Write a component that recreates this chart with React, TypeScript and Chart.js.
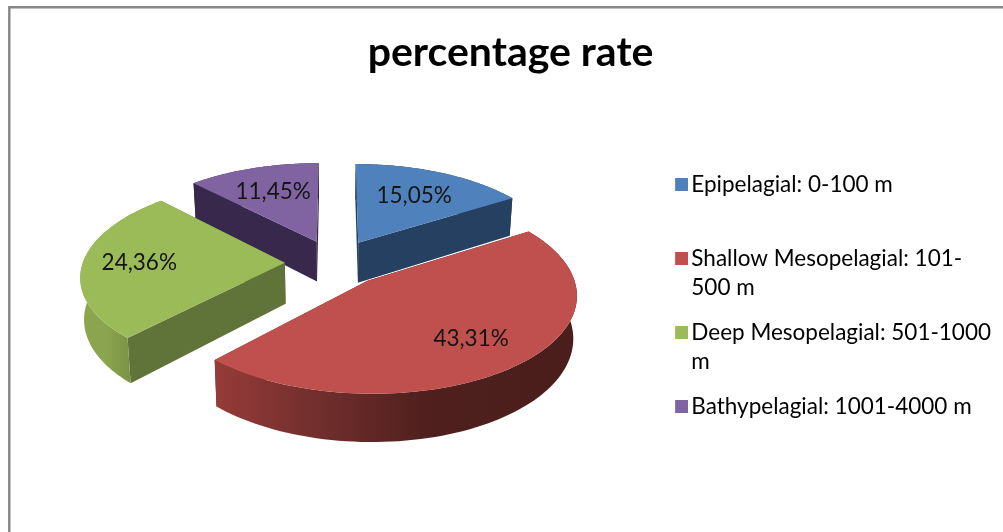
import { useEffect, useRef } from "react";
import { Chart, registerables } from "chart.js";

Chart.register(...registerables);

// Chart content
const TITLE = "percentage rate";
const CATEGORIES = [
  "Epipelagial: 0-100 m",
  "Shallow Mesopelagial: 101-500 m",
  "Deep Mesopelagial: 501-1000 m",
  "Bathypelagial: 1001-4000 m",
];
const VALUES = [15.05, 43.31, 24.36, 11.45];
const VALUE_TEXT = ["15,05%", "43,31%", "24,36%", "11,45%"];
const LEGEND_LINES = [
  ["Epipelagial: 0-100 m", ""],
  ["Shallow Mesopelagial: 101-", "500 m"],
  ["Deep Mesopelagial: 501-1000", "m"],
  ["Bathypelagial: 1001-4000 m"],
];

// Slice colours
const TOP_COLORS = ["#4f81bd", "#c0504d", "#9bbb59", "#8064a2"];
const FACE_COLORS = ["#254061", "#632523", "#60743a", "#38284c"];
const RIM_STOPS: [number, string][][] = [
  [[0, "#254061"], [1, "#254061"]],
  [[0, "#963b39"], [0.25, "#75302e"], [0.6, "#4e1f1d"], [1, "#4a1e1c"]],
  [[0, "#8ba64f"], [0.3, "#8aa54e"], [0.6, "#7a9346"], [1, "#7a9346"]],
  [[0, "#38284c"], [1, "#38284c"]],
];
const PAINT_ORDER = [3, 0, 2, 1];

// Tilted-disc view of the pie
const VIEW = {
  shiftX: -1.2,
  shiftY: -52,
  explode: 0.2475,
  perspective: 0.127,
  flatten: 93.5 / 202,
  depth: 41,
  bottomScale: 0.985,
};
const LABEL_RADII = [0.65, 0.71, 0.72, 0.66];
const LABEL_FONT = "22.5px Lato";

// Legend swatch: a 13px square pushed toward its text inside a wider transparent sprite
const SWATCH_SIZE = 13;
const SWATCH_NUDGE = 8;

type Pt = { x: number; y: number };

function makeSwatch(color: string) {
  const c = document.createElement("canvas");
  c.width = SWATCH_SIZE + 2 * SWATCH_NUDGE;
  c.height = SWATCH_SIZE;
  const g = c.getContext("2d")!;
  g.fillStyle = color;
  g.fillRect(2 * SWATCH_NUDGE, 0, SWATCH_SIZE, SWATCH_SIZE);
  return c;
}

function projector(arc: any) {
  const cx = arc.x + VIEW.shiftX;
  const cy = arc.y + VIEW.shiftY;
  const r = arc.outerRadius;
  const mid = (arc.startAngle + arc.endAngle) / 2;
  const ex = Math.cos(mid) * VIEW.explode;
  const ez = -Math.sin(mid) * VIEW.explode;
  // radial: 0 = slice apex, 1 = rim; angle in canvas radians
  return (radial: number, angle: number, lower = false): Pt => {
    const X = ex + radial * Math.cos(angle);
    const Z = ez - radial * Math.sin(angle);
    const w = 1 + VIEW.perspective * Z;
    let x = (r * X) / w;
    let y = (-r * VIEW.flatten * Z) / w;
    if (lower) {
      x *= VIEW.bottomScale;
      y = y + VIEW.depth / w;
    }
    return { x: cx + x, y: cy + y };
  };
}

function fillPath(ctx: CanvasRenderingContext2D, pts: Pt[], style: string | CanvasGradient) {
  ctx.beginPath();
  pts.forEach((p, i) => (i ? ctx.lineTo(p.x, p.y) : ctx.moveTo(p.x, p.y)));
  ctx.closePath();
  ctx.fillStyle = style;
  ctx.fill();
}

function rimPoints(project: ReturnType<typeof projector>, arc: any, lower = false) {
  const pts: Pt[] = [];
  const n = 90;
  for (let i = 0; i <= n; i++) {
    const a = arc.startAngle + ((arc.endAngle - arc.startAngle) * i) / n;
    pts.push(project(1, a, lower));
  }
  return pts;
}

const framePlugin = {
  id: "frame",
  beforeDraw(chart: any) {
    const { ctx } = chart;
    ctx.save();
    ctx.strokeStyle = "#868686";
    ctx.lineWidth = 2.4;
    ctx.beginPath();
    ctx.moveTo(9.3, chart.height + 4);
    ctx.lineTo(9.3, 7.2);
    ctx.lineTo(chart.width + 4, 7.2);
    ctx.stroke();
    ctx.restore();
  },
};

const tiltedPiePlugin = {
  id: "tiltedPie",
  beforeDatasetDraw(chart: any) {
    const { ctx } = chart;
    const arcs = chart.getDatasetMeta(0).data;
    ctx.save();
    for (const i of PAINT_ORDER) {
      const arc = arcs[i];
      const project = projector(arc);
      const upper = rimPoints(project, arc);
      const lower = rimPoints(project, arc, true);

      // the two cut faces
      for (const a of [arc.startAngle, arc.endAngle]) {
        fillPath(
          ctx,
          [project(0, a), project(1, a), project(1, a, true), project(0, a, true)],
          FACE_COLORS[i],
        );
      }

      // outer wall
      const xs = upper.concat(lower).map((p) => p.x);
      const grad = ctx.createLinearGradient(Math.min(...xs), 0, Math.max(...xs), 0);
      RIM_STOPS[i].forEach(([o, c]) => grad.addColorStop(o, c));
      fillPath(ctx, upper.concat(lower.slice().reverse()), grad);

      // top surface
      fillPath(ctx, [project(0, arc.startAngle), ...upper], TOP_COLORS[i]);
    }
    ctx.restore();
    return false;
  },
  afterDatasetsDraw(chart: any) {
    const { ctx } = chart;
    const arcs = chart.getDatasetMeta(0).data;
    ctx.save();
    ctx.font = LABEL_FONT;
    ctx.fillStyle = "#151515";
    ctx.textAlign = "center";
    ctx.textBaseline = "middle";
    arcs.forEach((arc: any, i: number) => {
      const mid = (arc.startAngle + arc.endAngle) / 2;
      const p = projector(arc)(LABEL_RADII[i], mid);
      ctx.fillText(VALUE_TEXT[i], p.x, p.y);
    });
    ctx.restore();
  },
};

export default function App() {
  const ref = useRef<HTMLCanvasElement>(null);

  useEffect(() => {
    document.body.style.margin = "0";
    const swatches = TOP_COLORS.map(makeSwatch);
    const chart = new Chart(ref.current!, {
      type: "pie",
      data: {
        labels: CATEGORIES,
        datasets: [{ data: VALUES, backgroundColor: TOP_COLORS, borderWidth: 0 }],
      },
      plugins: [framePlugin, tiltedPiePlugin],
      options: {
        responsive: false,
        animation: false,
        events: [],
        radius: 202,
        layout: { padding: { left: 20, right: 2, top: 28, bottom: -38 } },
        plugins: {
          title: {
            display: true,
            text: TITLE,
            color: "#000000",
            font: { family: "Lato", size: 41, weight: "bold" },
            padding: { top: 0, bottom: 20 },
          },
          tooltip: { enabled: false },
          legend: {
            position: "right",
            labels: {
              color: "#262626",
              usePointStyle: true,
              pointStyleWidth: SWATCH_SIZE,
              boxWidth: SWATCH_SIZE,
              boxHeight: SWATCH_SIZE,
              padding: 15,
              font: { family: "Lato", size: 22.5, lineHeight: 29.5 / 22.5 },
              generateLabels: () =>
                LEGEND_LINES.map((lines, i) => ({
                  text: lines,
                  fillStyle: TOP_COLORS[i],
                  strokeStyle: TOP_COLORS[i],
                  pointStyle: swatches[i],
                  lineWidth: 0,
                  hidden: false,
                  index: i,
                })) as any,
            },
          },
        },
      } as any,
    });
    return () => chart.destroy();
  }, []);

  return <canvas ref={ref} width={1003} height={532} style={{ display: "block" }} />;
}
